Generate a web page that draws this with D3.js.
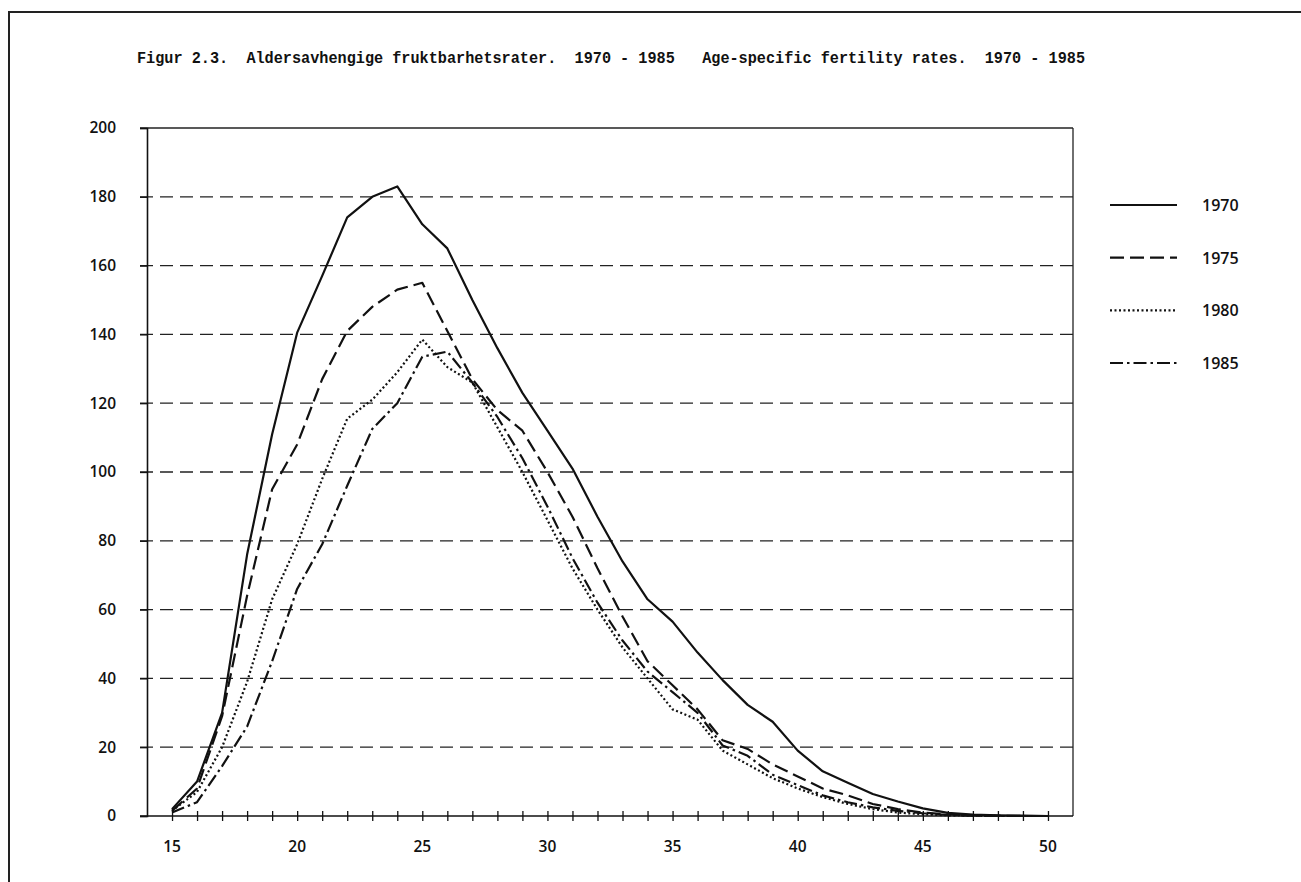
<!DOCTYPE html>
<html>
<head>
<meta charset="utf-8">
<script src="https://cdn.jsdelivr.net/npm/d3@7"></script>
<style>
  body { margin: 0; background: #fff; }
  svg text { fill: #111; }
</style>
</head>
<body>
<div id="dataViz"></div>
<script>
//DATA
let ages = [15, 16, 17, 18, 19, 20, 21, 22, 23, 24, 25, 26, 27, 28, 29, 30, 31, 32,
  33, 34, 35, 36, 37, 38, 39, 40, 41, 42, 43, 44, 45, 46, 47, 48, 49, 50];

let rates1970 = [2, 10, 30, 76, 111, 140.5, 157, 174, 180, 183, 172, 165, 150, 136, 123, 112, 101, 87,
  74, 63, 56.5, 47.5, 39.5, 32.3, 27.4, 19, 13, 9.7, 6.4, 4.2, 2.2, 0.9, 0.4, 0.2, 0.1, 0];
let rates1975 = [1.5, 8, 29, 64, 95, 108, 127, 141, 148, 153, 155, 141, 127, 118, 112, 100, 87, 72,
  58, 45, 38, 31, 22, 19.5, 15, 11.5, 8, 6, 3.5, 2, 1, 0.5, 0.2, 0.1, 0, 0];
let rates1980 = [1.5, 7, 20, 39, 63, 79, 98, 115.5, 121, 129, 138.5, 130.5, 126, 113, 100, 86, 72, 60,
  49, 40, 31, 28, 19, 15, 11, 8, 5.5, 3.5, 2, 1, 0.5, 0.2, 0.1, 0, 0, 0];
let rates1985 = [1, 4, 14.5, 26, 45, 66, 79, 96, 112.5, 120, 133.5, 135, 126, 116, 104, 90, 75, 62,
  51, 42, 36, 30, 20.5, 17.5, 12, 9, 6, 4, 2.5, 1.5, 0.8, 0.3, 0.1, 0, 0, 0];

let years = ["1970", "1975", "1980", "1985"];
let yTicks = [0, 20, 40, 60, 80, 100, 120, 140, 160, 180, 200];
let xLabels = [15, 20, 25, 30, 35, 40, 45, 50];

let titleText = "Figur 2.3.  Aldersavhengige fruktbarhetsrater.  1970 - 1985   Age-specific fertility rates.  1970 - 1985";

//DIMENSIONS
let WIDTH = 1301,
  HEIGHT = 882,
  PLOT = { left: 147, right: 1073, top: 128, bottom: 816 };

let svg = d3
  .select("#dataViz")
  .append("svg")
  .attr("width", WIDTH)
  .attr("height", HEIGHT);

//page frame (scanned page edge)
svg.append("path")
  .attr("d", `M9,882 L9,12 L1301,12`)
  .attr("fill", "none")
  .attr("stroke", "#222")
  .attr("stroke-width", 2);

//title
svg.append("text")
  .attr("x", 137)
  .attr("y", 63)
  .attr("textLength", 948)
  .attr("lengthAdjust", "spacingAndGlyphs")
  .style("white-space", "pre")
  .style("font-family", "'Liberation Mono', 'DejaVu Sans Mono', monospace")
  .style("font-weight", "bold")
  .style("font-size", "16px")
  .text(titleText);

//SCALES
let xScale = d3.scaleLinear().domain([14, 51]).range([PLOT.left, PLOT.right]);
let yScale = d3.scaleLinear().domain([0, 200]).range([PLOT.bottom, PLOT.top]);

//gridlines
svg.append("g")
  .selectAll("line")
  .data(yTicks.filter((d) => d > 0 && d < 200))
  .enter()
  .append("line")
  .attr("x1", PLOT.left - 7)
  .attr("x2", PLOT.right)
  .attr("y1", (d) => yScale(d))
  .attr("y2", (d) => yScale(d))
  .attr("stroke", "#222")
  .attr("stroke-width", 1.3)
  .attr("stroke-dasharray", "13,7");

//frame of plot: top, right
svg.append("line")
  .attr("x1", PLOT.left - 7).attr("x2", PLOT.right)
  .attr("y1", yScale(200)).attr("y2", yScale(200))
  .attr("stroke", "#222").attr("stroke-width", 1.5);
svg.append("line")
  .attr("x1", PLOT.right).attr("x2", PLOT.right)
  .attr("y1", yScale(200)).attr("y2", yScale(0))
  .attr("stroke", "#222").attr("stroke-width", 1.3);

//Y-AXIS
let yAxis = svg.append("g")
  .attr("transform", `translate(${PLOT.left},0)`)
  .call(d3.axisLeft(yScale).tickValues(yTicks).tickSize(7).tickPadding(24));
yAxis.select(".domain").attr("stroke", "#111").attr("stroke-width", 1.6);
yAxis.selectAll(".tick line").attr("stroke", "#111").attr("stroke-width", 1.3);
yAxis.selectAll("text")
  .style("font-family", "'Open Sans', 'Noto Sans', sans-serif")
  .style("font-weight", "600")
  .style("font-size", "15.5px")
  .attr("fill", "#111");

//X-AXIS
let xAxis = svg.append("g")
  .attr("transform", `translate(0,${PLOT.bottom})`)
  .call(d3.axisBottom(xScale).tickValues(ages).tickSize(5).tickFormat(""));
xAxis.select(".domain").attr("d", `M${PLOT.left - 7},0H${PLOT.right}`)
  .attr("stroke", "#111").attr("stroke-width", 1.6);
xAxis.selectAll(".tick line").attr("y1", -5).attr("stroke", "#111").attr("stroke-width", 1.3);

svg.append("g")
  .selectAll("text")
  .data(xLabels)
  .enter()
  .append("text")
  .attr("x", (d) => xScale(d))
  .attr("y", PLOT.bottom + 36)
  .attr("text-anchor", "middle")
  .style("font-family", "'Open Sans', 'Noto Sans', sans-serif")
  .style("font-weight", "600")
  .style("font-size", "15.5px")
  .text((d) => d);

//LINES
let series = [
  { year: "1970", values: rates1970, dash: null },
  { year: "1975", values: rates1975, dash: "14,6" },
  { year: "1980", values: rates1980, dash: "2,2.5" },
  { year: "1985", values: rates1985, dash: "13,4,2.5,4" }
];

let line = d3.line()
  .x((d, i) => xScale(ages[i]))
  .y((d) => yScale(d));

svg.append("g")
  .selectAll("path")
  .data(series)
  .enter()
  .append("path")
  .attr("d", (d) => line(d.values))
  .attr("fill", "none")
  .attr("stroke", "#111")
  .attr("stroke-width", 2.2)
  .attr("stroke-linejoin", "round")
  .attr("stroke-dasharray", (d) => d.dash);

//LEGEND
let legendY = d3.scalePoint().domain(years).range([205, 363]);
let legend = svg.append("g")
  .selectAll("g")
  .data(series)
  .enter()
  .append("g")
  .attr("transform", (d) => `translate(0,${legendY(d.year)})`);

legend.append("line")
  .attr("x1", 1110)
  .attr("x2", 1177)
  .attr("stroke", "#111")
  .attr("stroke-width", 2.2)
  .attr("stroke-dasharray", (d) => d.dash);

legend.append("text")
  .attr("x", 1202)
  .attr("y", 6)
  .style("font-family", "'Open Sans', 'Noto Sans', sans-serif")
  .style("font-weight", "600")
  .style("font-size", "16px")
  .text((d) => d.year);
</script>
</body>
</html>
